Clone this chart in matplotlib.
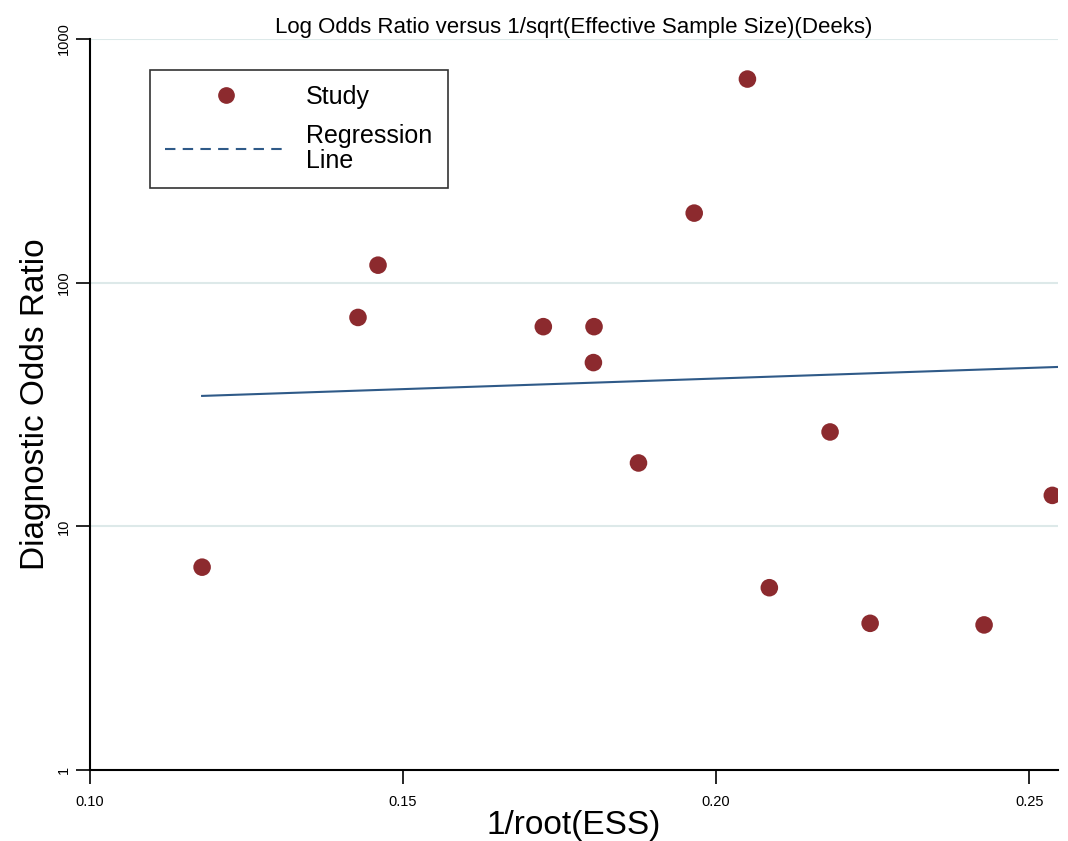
import matplotlib
matplotlib.use("Agg")
import matplotlib.pyplot as plt
from matplotlib.lines import Line2D
import numpy as np

# Data
inv_root_ess = [0.1179, 0.1428, 0.1460, 0.1724, 0.1805, 0.1804, 0.1876,
                0.1965, 0.2050, 0.2085, 0.2182, 0.2246, 0.2428, 0.2537]
dor = [6.8, 72, 118, 66, 66, 47, 18.2, 193, 685, 5.6, 24.4, 4.0, 3.94, 13.4]
reg_x = [0.1179, 0.2546]
reg_y = [34.3, 45.1]
x_ticks = [0.10, 0.15, 0.20, 0.25]
x_ticklabels = ["0.10", "0.15", "0.20", "0.25"]
y_ticks = [1, 10, 100, 1000]
y_ticklabels = ["1", "10", "100", "1000"]

plt.rcParams['font.family'] = ["Liberation Sans", "DejaVu Sans"]

fig = plt.figure(figsize=(10.68, 8.41), dpi=100)
ax = fig.add_axes([0.0843, 0.0844, 0.9063, 0.8692])

dot_color = "#8c2a2e"
line_color = "#2f5a88"

ax.set_yscale("log")
ax.set_xlim(0.10, 0.2546)
ax.set_ylim(1, 1000)

for yv in [10, 100, 1000]:
    ax.axhline(yv, color="#dde9e9", lw=1.5, zorder=0)

ax.plot(reg_x, reg_y, color=line_color, lw=1.5, zorder=2)
ax.scatter(inv_root_ess, dor, s=160, color=dot_color, edgecolors="none", zorder=3)

ax.set_xticks(x_ticks)
ax.set_xticklabels(x_ticklabels, fontsize=10.5)
ax.set_yticks(y_ticks)
ax.set_yticklabels(y_ticklabels, fontsize=10.5, rotation=90, va="center")
ax.yaxis.set_minor_locator(matplotlib.ticker.NullLocator())
ax.tick_params(axis="both", length=10, width=1.2, color="black")
ax.tick_params(axis="x", pad=8)
ax.tick_params(axis="y", pad=4)

for s in ["top", "right"]:
    ax.spines[s].set_visible(False)
for s in ["left", "bottom"]:
    ax.spines[s].set_linewidth(1.5)

ax.set_title("Log Odds Ratio versus 1/sqrt(Effective Sample Size)(Deeks)",
             fontsize=16, pad=4)
ax.set_xlabel("1/root(ESS)", fontsize=24, labelpad=1)
ax.set_ylabel("Diagnostic Odds Ratio", fontsize=24, labelpad=4)

handles = [Line2D([], [], marker="o", linestyle="none", color=dot_color, markersize=11),
           Line2D([], [], color=line_color, lw=1.5, linestyle=(0, (5, 3.5)))]
leg = ax.legend(handles, ["Study", "Regression\nLine"], loc="upper left",
                bbox_to_anchor=(0.062, 0.9576), fontsize=18, frameon=True,
                fancybox=False, edgecolor="black", handlelength=4.9,
                borderpad=0.6, labelspacing=0.6, handletextpad=0.75,
                borderaxespad=0)
for t in leg.get_texts():
    t.set_linespacing(1.05)
leg.get_frame().set_linewidth(1.2)

fig.savefig("out.png", dpi=100)
